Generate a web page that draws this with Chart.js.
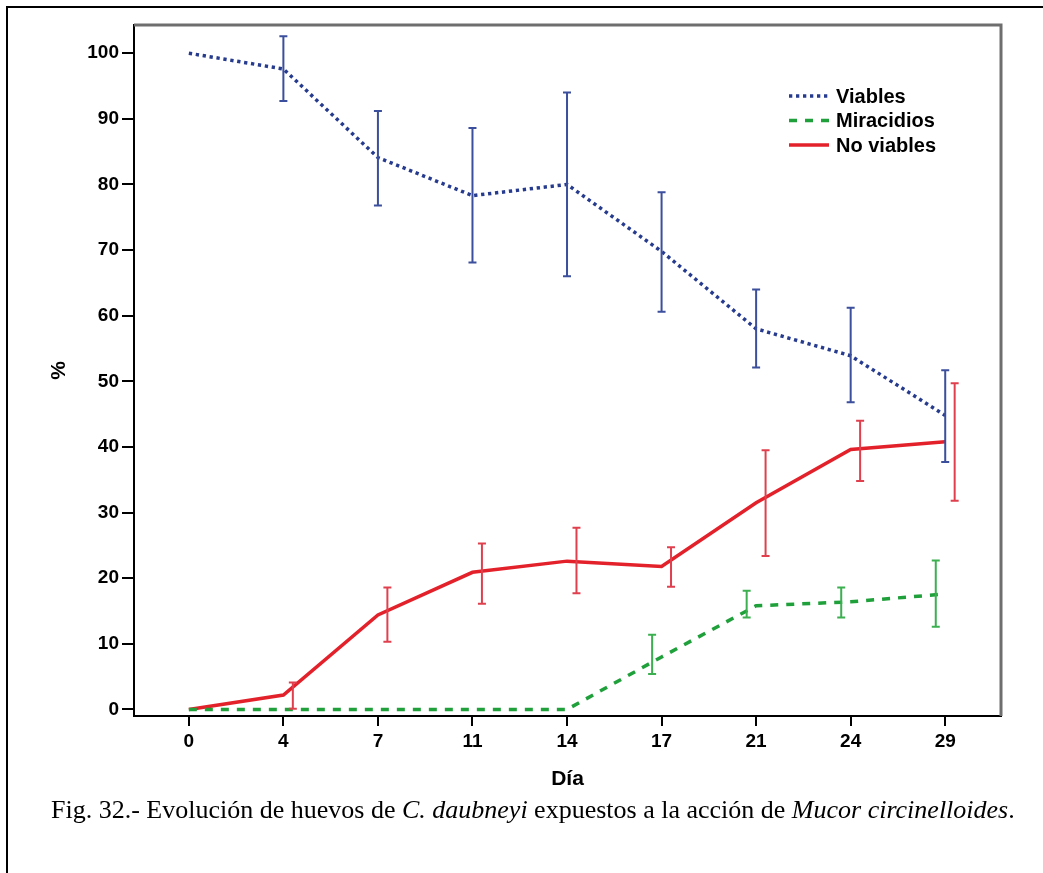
<!DOCTYPE html>
<html>
<head>
<meta charset="utf-8">
<script src="https://cdn.jsdelivr.net/npm/chart.js@4/dist/chart.umd.min.js"></script>
<style>
html, body { margin: 0; padding: 0; background: #fff; overflow: hidden; }
#frame { position: absolute; left: 6px; top: 6px; width: 1100px; height: 900px;
         border-left: 2px solid #000; border-top: 2px solid #000; }
#wrap { position: absolute; left: 0; top: 0; width: 1043px; height: 800px; }
#caption { position: absolute; left: 51px; top: 795px; white-space: nowrap;
           font-family: "Liberation Serif", "Times New Roman", serif; font-size: 26px; color: #000; }
</style>
</head>
<body>
<div id="frame"></div>
<div id="wrap"><canvas id="evoChart" width="1043" height="800"></canvas></div>
<div id="caption">Fig. 32.- Evolución de huevos de <i>C. daubneyi</i> expuestos a la acción de <i>Mucor circinelloides</i>.</div>
<script>
// Días de muestreo (eje X) y ticks del eje Y
const days = ['0', '4', '7', '11', '14', '17', '21', '24', '29'];
const yTicks = [0, 10, 20, 30, 40, 50, 60, 70, 80, 90, 100];

// Viables
const viables     = [100, 97.6, 84.1, 78.3, 80.0, 69.8, 58.0, 53.9, 44.8];
const viablesLow  = [null, 92.7, 76.8, 68.1, 66.0, 60.6, 52.1, 46.8, 37.7];
const viablesHigh = [null, 102.6, 91.2, 88.6, 94.0, 78.8, 64.0, 61.2, 51.7];

// Miracidios
const miracidios     = [0, 0, 0, 0, 0, 8.0, 15.8, 16.4, 17.6];
const miracidiosLow  = [null, null, null, null, null, 5.4, 14.0, 14.0, 12.6];
const miracidiosHigh = [null, null, null, null, null, 11.4, 18.1, 18.6, 22.7];

// No viables
const noViables     = [0, 2.2, 14.4, 20.9, 22.6, 21.8, 31.5, 39.6, 40.8];
const noViablesLow  = [null, 0.1, 10.3, 16.1, 17.7, 18.7, 23.4, 34.8, 31.8];
const noViablesHigh = [null, 4.1, 18.6, 25.3, 27.7, 24.7, 39.5, 44.0, 49.7];

const toPoints = arr => arr.map((v, i) => ({ x: i, y: v }));
const boldFont = size => ({ family: '"Liberation Sans", Arial, sans-serif', size: size, weight: 'bold' });

// Error bars, slightly dodged per series like SPSS does
const errorBars = {
    id: 'errorBars',
    afterDatasetsDraw(chart) {
        const { ctx, scales: { x, y } } = chart;
        chart.data.datasets.forEach(ds => {
            ctx.save();
            ctx.strokeStyle = ds.errorColor;
            ctx.lineWidth = 2;
            ds.low.forEach((lo, i) => {
                if (lo == null) return;
                const px = x.getPixelForValue(i + ds.dodge);
                const top = y.getPixelForValue(ds.high[i]);
                const bot = y.getPixelForValue(lo);
                ctx.beginPath();
                ctx.moveTo(px, top); ctx.lineTo(px, bot);
                ctx.moveTo(px - 4, top); ctx.lineTo(px + 4, top);
                ctx.moveTo(px - 4, bot); ctx.lineTo(px + 4, bot);
                ctx.stroke();
            });
            ctx.restore();
        });
    }
};

// Grey frame on top/right of the plot + legend in the corner
const frameAndLegend = {
    id: 'frameAndLegend',
    afterDraw(chart) {
        const { ctx, chartArea: a } = chart;
        ctx.save();
        ctx.strokeStyle = '#6e6e6e';
        ctx.lineWidth = 3;
        ctx.beginPath();
        ctx.moveTo(a.left, a.top);
        ctx.lineTo(a.right, a.top);
        ctx.lineTo(a.right, a.bottom);
        ctx.stroke();

        const lx = a.right - 212;
        let ly = a.top + 71;
        ctx.font = 'bold 20px "Liberation Sans", Arial, sans-serif';
        ctx.textBaseline = 'middle';
        chart.data.datasets.forEach(ds => {
            ctx.strokeStyle = ds.borderColor;
            ctx.lineWidth = 3.5;
            ctx.setLineDash(ds.borderDash || []);
            ctx.beginPath();
            ctx.moveTo(lx, ly);
            ctx.lineTo(lx + 40, ly);
            ctx.stroke();
            ctx.setLineDash([]);
            ctx.fillStyle = '#000';
            ctx.fillText(ds.label, lx + 47, ly + 1);
            ly += 24.5;
        });
        ctx.restore();
    }
};

const ctxEvo = document.getElementById('evoChart').getContext('2d');
const evoChart = new Chart(ctxEvo, {
    type: 'line',
    data: {
        datasets: [{
            label: 'Viables',
            data: toPoints(viables),
            low: viablesLow,
            high: viablesHigh,
            dodge: 0,
            borderColor: '#263b8e',
            errorColor: '#3b4f9c',
            borderWidth: 3.5,
            borderDash: [3.3, 3.7]
        }, {
            label: 'Miracidios',
            data: toPoints(miracidios),
            low: miracidiosLow,
            high: miracidiosHigh,
            dodge: -0.1,
            borderColor: '#1fa03a',
            errorColor: '#3cb050',
            borderWidth: 3.5,
            borderDash: [8, 8]
        }, {
            label: 'No viables',
            data: toPoints(noViables),
            low: noViablesLow,
            high: noViablesHigh,
            dodge: 0.1,
            borderColor: '#e3212b',
            errorColor: '#e0404e',
            borderWidth: 3.5
        }]
    },
    options: {
        responsive: false,
        animation: false,
        layout: { padding: { top: 25, right: 42, left: 0, bottom: 0 } },
        elements: { point: { radius: 0 }, line: { tension: 0 } },
        plugins: { legend: { display: false }, tooltip: { enabled: false } },
        scales: {
            x: {
                type: 'linear',
                min: -0.58,
                max: 8.59,
                afterFit: s => { s.height = 84; },
                afterBuildTicks: s => { s.ticks = days.map((d, i) => ({ value: i })); },
                grid: { drawOnChartArea: false, tickLength: 10, color: '#000', lineWidth: 2 },
                border: { color: '#000', width: 2 },
                ticks: { padding: 4, color: '#000', font: boldFont(19), callback: v => days[v] },
                title: { display: true, text: 'Día', color: '#000', padding: { bottom: 8 }, font: boldFont(21) }
            },
            y: {
                min: -1,
                max: 104.3,
                afterFit: s => { s.width = 134; },
                afterBuildTicks: s => { s.ticks = yTicks.map(v => ({ value: v })); },
                grid: { drawOnChartArea: false, tickLength: 12, color: '#000', lineWidth: 2 },
                border: { color: '#000', width: 2 },
                ticks: { padding: 3, color: '#000', font: boldFont(19) },
                title: { display: true, text: '%', color: '#000', padding: { top: 47 }, font: boldFont(21) }
            }
        }
    },
    plugins: [errorBars, frameAndLegend]
});
</script>
</body>
</html>
